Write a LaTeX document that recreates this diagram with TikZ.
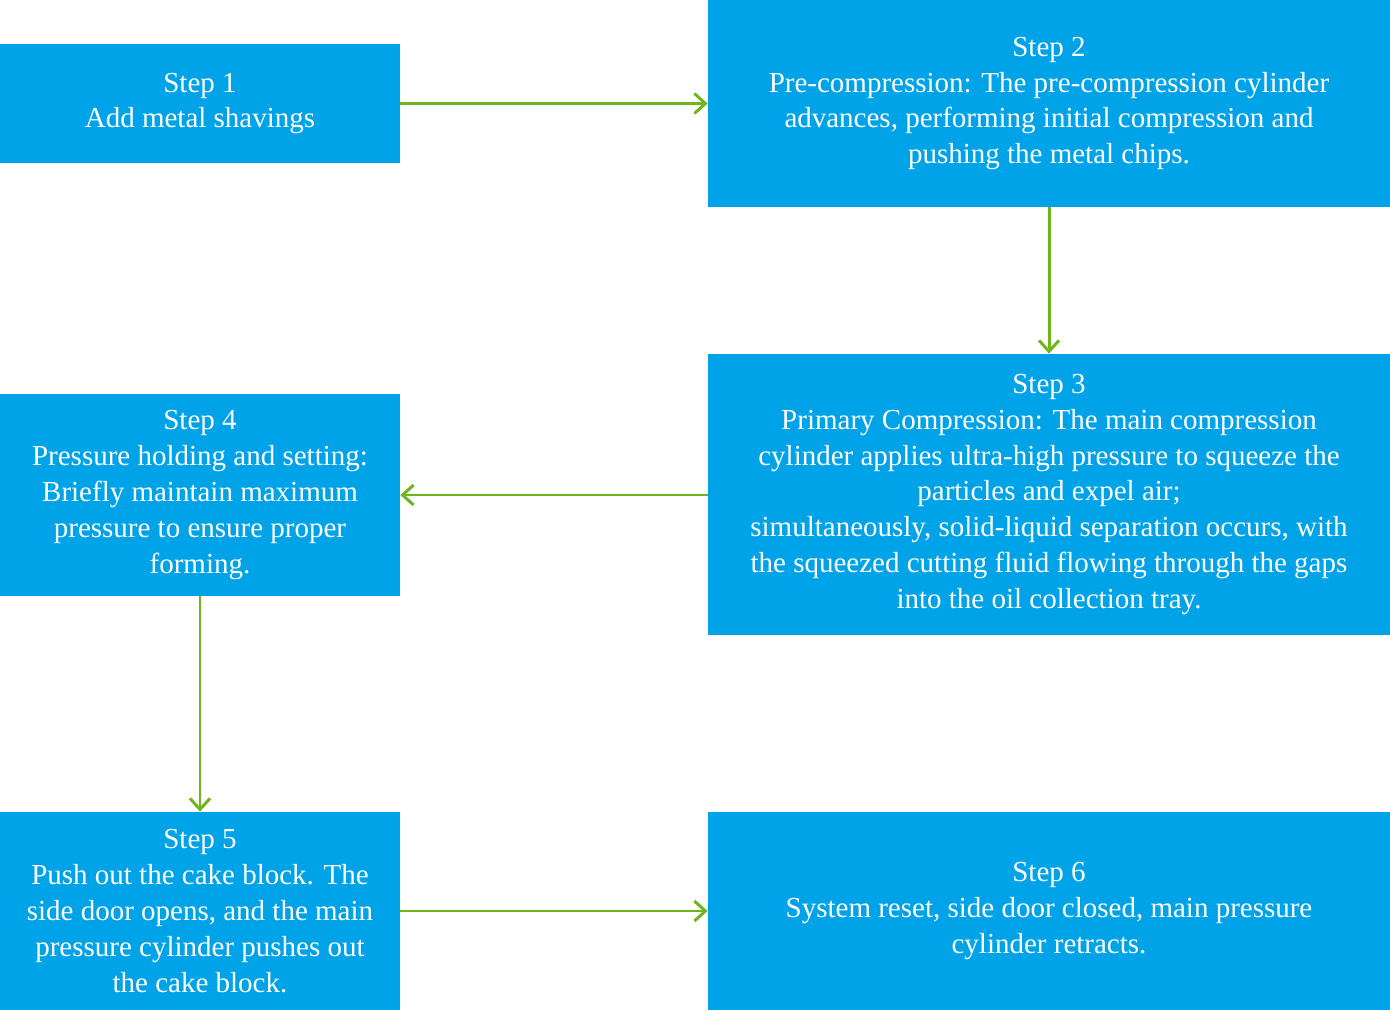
\documentclass[tikz,border=0pt]{standalone}
\usepackage{fontspec}
\setmainfont{Liberation Serif}
\definecolor{stepblue}{HTML}{00A3E8}
\definecolor{arrgreen}{HTML}{6FB51E}
\usetikzlibrary{arrows.meta,positioning}

\begin{document}
\begin{tikzpicture}[
  stepbox/.style={fill=stepblue, text=white, align=center, inner sep=0pt,
    font=\fontsize{16.5}{20.4}\selectfont},
  arr/.style={-{Straight Barb[length=2.2mm,width=4mm]}, line width=1.7pt, arrgreen}
]
  \useasboundingbox (0,0) rectangle (27.8,20.2);
  % Steps
  \node[stepbox, minimum width=8cm, minimum height=2.38cm] (s1) at (4.0,18.13) {Step 1\\Add metal shavings};
  \node[stepbox, minimum width=13.64cm, minimum height=4.14cm] (s2) at (20.98,18.13) {Step 2\\Pre-compression: The pre-compression cylinder\\advances, performing initial compression and\\pushing the metal chips.};
  \node[stepbox, minimum width=13.64cm, minimum height=5.62cm] (s3) at (20.98,10.31) {Step 3\\Primary Compression: The main compression\\cylinder applies ultra-high pressure to squeeze the\\particles and expel air;\\simultaneously, solid-liquid separation occurs, with\\the squeezed cutting fluid flowing through the gaps\\into the oil collection tray.};
  \node[stepbox, minimum width=8cm, minimum height=4.04cm] (s4) at (4.0,10.3) {Step 4\\Pressure holding and setting:\\Briefly maintain maximum\\pressure to ensure proper\\forming.};
  \node[stepbox, minimum width=8cm, minimum height=3.96cm] (s5) at (4.0,1.98) {Step 5\\Push out the cake block. The\\side door opens, and the main\\pressure cylinder pushes out\\the cake block.};
  \node[stepbox, minimum width=13.64cm, minimum height=3.96cm] (s6) at (20.98,1.98) {Step 6\\System reset, side door closed, main pressure\\cylinder retracts.};

  % Arrows
  \draw[arr] (s1) -- (s2);
  \draw[arr] (s2) -- (s3);
  \draw[arr] (s3.west |- s4) -- (s4);
  \draw[arr] (s4) -- (s5);
  \draw[arr] (s5) -- (s6);
\end{tikzpicture}
\end{document}
